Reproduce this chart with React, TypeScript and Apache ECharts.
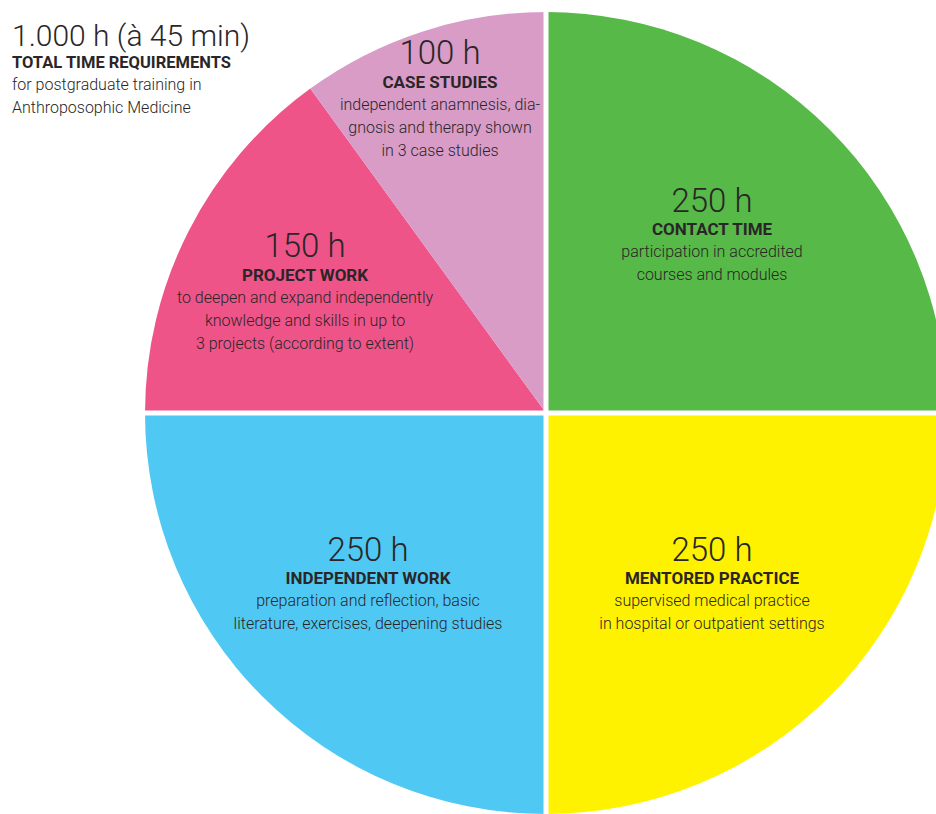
import React, { useEffect, useRef } from "react";
import * as echarts from "echarts";

const categories = ["CONTACT TIME", "MENTORED PRACTICE", "INDEPENDENT WORK", "PROJECT WORK", "CASE STUDIES"];
const hours = [250, 250, 250, 150, 100];
const descriptions = [
  ["participation in accredited", "courses and modules"],
  ["supervised medical practice", "in hospital or outpatient settings"],
  ["preparation and reflection, basic", "literature, exercises, deepening studies"],
  ["to deepen and expand independently", "knowledge and skills in up to", "3 projects (according to extent)"],
  ["independent anamnesis, dia-", "gnosis and therapy shown", "in 3 case studies"],
];
const colors = ["#57b947", "#fff200", "#4fc9f3", "#ef5489", "#d89cc7"];
const titleLines = ["1.000 h (à 45 min)", "TOTAL TIME REQUIREMENTS", "for postgraduate training in", "Anthroposophic Medicine"];

// label block centers (layout)
const labelPos: [number, number][] = [
  [712, 234],
  [712, 583],
  [368, 583],
  [305, 291],
  [440, 98],
];

const CX = 546;
const CY = 413;
const R = 401;
const FONT = "Roboto, 'Noto Sans', sans-serif";
const TXT = "#2a2627";

export default function App() {
  const ref = useRef<HTMLDivElement>(null);
  useEffect(() => {
    if (!ref.current) return;
    const chart = echarts.init(ref.current, undefined, { renderer: "svg" });
    chart.setOption({
      animation: false,
      backgroundColor: "#ffffff",
      title: {
        left: 7,
        top: 14,
        text: `{big|${titleLines[0]}}\n{bold|${titleLines[1]}}\n{reg|${titleLines[2]}}\n{reg|${titleLines[3]}}`,
        textStyle: {
          rich: {
            big: { fontFamily: FONT, fontWeight: 300, fontSize: 30, lineHeight: 32, color: TXT },
            bold: { fontFamily: FONT, fontWeight: "bold", fontSize: 16.5, lineHeight: 22, color: TXT },
            reg: { fontFamily: FONT, fontWeight: 300, fontSize: 16, lineHeight: 23, color: TXT },
          },
        },
      },
      series: [
        {
          type: "pie",
          center: [CX, CY],
          radius: [0, R],
          startAngle: 90,
          clockwise: true,
          itemStyle: { borderWidth: 0 },
          label: {
            show: true,
            position: "inside",
            formatter: (p: any) => {
              const i = p.dataIndex;
              const d = descriptions[i].map((l) => `{d|${l}}`).join("\n");
              return `{v|${hours[i]} h}\n{t|${categories[i]}}\n${d}`;
            },
            rich: {
              v: { fontFamily: FONT, fontWeight: 300, fontSize: 33, lineHeight: 36, color: TXT, align: "center" },
              t: { fontFamily: FONT, fontWeight: "bold", fontSize: 17, lineHeight: 22, color: TXT, align: "center" },
              d: { fontFamily: FONT, fontWeight: 300, fontSize: 16, lineHeight: 23, color: TXT, align: "center" },
            },
          },
          labelLayout: (params: any) => ({
            x: labelPos[params.dataIndex][0],
            y: labelPos[params.dataIndex][1],
            align: "center",
            verticalAlign: "middle",
          }),
          labelLine: { show: false },
          emphasis: { disabled: true },
          data: categories.map((c, i) => ({ name: c, value: hours[i], itemStyle: { color: colors[i] } })),
        },
      ],
      graphic: [
        { type: "line", z: 100, shape: { x1: CX, y1: CY - R - 5, x2: CX, y2: CY + R + 5 }, style: { stroke: "#fff", lineWidth: 5 } },
        { type: "line", z: 100, shape: { x1: CX - R - 5, y1: CY, x2: CX + R + 5, y2: CY }, style: { stroke: "#fff", lineWidth: 5 } },
      ],
    });
    return () => chart.dispose();
  }, []);
  return <div ref={ref} style={{ position: "absolute", left: 0, top: 0, width: 936, height: 814 }} />;
}
